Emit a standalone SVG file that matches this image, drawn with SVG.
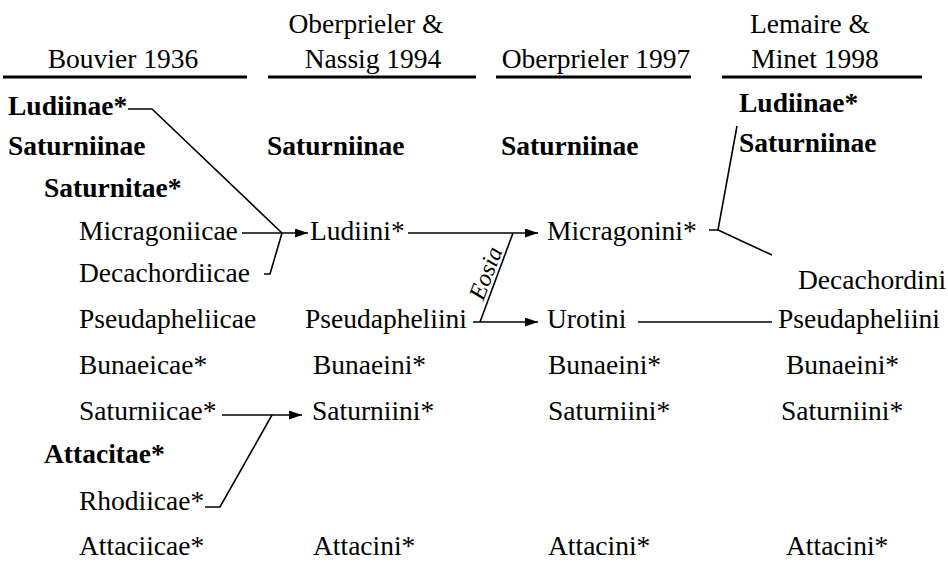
<svg xmlns="http://www.w3.org/2000/svg" width="948" height="562" viewBox="0 0 948 562">
<style>
  text { font-family: "Liberation Serif", "Times New Roman", serif; font-size: 27.5px; fill: #000; }
  .b { font-weight: bold; }
  .h { text-anchor: middle; }
  .hl { stroke: #000; stroke-width: 3; fill: none; }
  .c { stroke: #000; stroke-width: 1.6; fill: none; }
  .lab { font-style: italic; font-size: 24px; text-anchor: middle; }
</style>
<defs>
  <marker id="arr" markerUnits="userSpaceOnUse" markerWidth="14" markerHeight="10" refX="13" refY="4.5" orient="auto">
    <path d="M0,0 L13,4.5 L0,9 z" fill="#000"/>
  </marker>
</defs>
<rect width="948" height="562" fill="#fff"/>

<g id="headers">
  <g id="h-bouvier"><text class="h" x="123" y="68">Bouvier 1936</text><line class="hl" x1="3" y1="77" x2="247" y2="77"/></g>
  <g id="h-oberprieler-nassig"><text class="h" x="366" y="33">Oberprieler &amp;</text><text class="h" x="373" y="68">Nassig 1994</text><line class="hl" x1="268" y1="77" x2="476" y2="77"/></g>
  <g id="h-oberprieler"><text class="h" x="596" y="68">Oberprieler 1997</text><line class="hl" x1="496" y1="77" x2="691" y2="77"/></g>
  <g id="h-lemaire"><text class="h" x="810" y="33">Lemaire &amp;</text><text class="h" x="815" y="68">Minet 1998</text><line class="hl" x1="722" y1="77" x2="922" y2="77"/></g>
</g>

<g id="col1">
  <g id="n-ludiinae-1"><text class="b" x="8" y="115">Ludiinae*</text></g>
  <g id="n-saturniinae-1"><text class="b" x="8" y="155">Saturniinae</text></g>
  <g id="n-saturnitae"><text class="b" x="44" y="197">Saturnitae*</text></g>
  <g id="n-micragoniicae"><text x="79" y="240">Micragoniicae</text></g>
  <g id="n-decachordiicae"><text x="79" y="282">Decachordiicae</text></g>
  <g id="n-pseudapheliicae"><text x="79" y="328">Pseudapheliicae</text></g>
  <g id="n-bunaeicae"><text x="79" y="374">Bunaeicae*</text></g>
  <g id="n-saturniicae"><text x="79" y="420">Saturniicae*</text></g>
  <g id="n-attacitae"><text class="b" x="44" y="463">Attacitae*</text></g>
  <g id="n-rhodiicae"><text x="79" y="510">Rhodiicae*</text></g>
  <g id="n-attaciicae"><text x="79" y="555">Attaciicae*</text></g>
</g>

<g id="col2">
  <g id="n-saturniinae-2"><text class="b" x="267" y="155">Saturniinae</text></g>
  <g id="n-ludiini"><text x="310" y="240">Ludiini*</text></g>
  <g id="n-pseudapheliini-2"><text x="305" y="328">Pseudapheliini</text></g>
  <g id="n-bunaeini-2"><text x="313" y="374">Bunaeini*</text></g>
  <g id="n-saturniini-2"><text x="312" y="420">Saturniini*</text></g>
  <g id="n-attacini-2"><text x="313" y="555">Attacini*</text></g>
</g>

<g id="col3">
  <g id="n-saturniinae-3"><text class="b" x="501" y="155">Saturniinae</text></g>
  <g id="n-micragonini"><text x="547" y="240">Micragonini*</text></g>
  <g id="n-urotini"><text x="547" y="328">Urotini</text></g>
  <g id="n-bunaeini-3"><text x="548" y="374">Bunaeini*</text></g>
  <g id="n-saturniini-3"><text x="548" y="420">Saturniini*</text></g>
  <g id="n-attacini-3"><text x="548" y="555">Attacini*</text></g>
</g>

<g id="col4">
  <g id="n-ludiinae-4"><text class="b" x="739" y="112">Ludiinae*</text></g>
  <g id="n-saturniinae-4"><text class="b" x="739" y="152">Saturniinae</text></g>
  <g id="n-decachordini"><text x="798" y="289">Decachordini</text></g>
  <g id="n-pseudapheliini-4"><text x="778" y="328">Pseudapheliini</text></g>
  <g id="n-bunaeini-4"><text x="786" y="374">Bunaeini*</text></g>
  <g id="n-saturniini-4"><text x="781" y="420">Saturniini*</text></g>
  <g id="n-attacini-4"><text x="786" y="555">Attacini*</text></g>
</g>

<g id="connectors">
  <polyline class="c" points="128,109 152,109 282,233"/>
  <polyline class="c" points="264,274 270,274 282,233"/>
  <line class="c" x1="242" y1="233" x2="308" y2="233" marker-end="url(#arr)"/>
  <line class="c" x1="408" y1="233" x2="538" y2="233" marker-end="url(#arr)"/>
  <line class="c" x1="513" y1="233" x2="480" y2="322"/>
  <line class="c" x1="473" y1="322" x2="538" y2="322" marker-end="url(#arr)"/>
  <text class="lab" transform="translate(493,276) rotate(-69)">Eosia</text>
  <line class="c" x1="638" y1="322" x2="772" y2="322"/>
  <polyline class="c" points="709,230 718,230 737,126"/>
  <line class="c" x1="718" y1="230" x2="772" y2="255"/>
  <line class="c" x1="222" y1="415" x2="302" y2="415" marker-end="url(#arr)"/>
  <polyline class="c" points="205,507 220,507 272,415"/>
</g>
</svg>
